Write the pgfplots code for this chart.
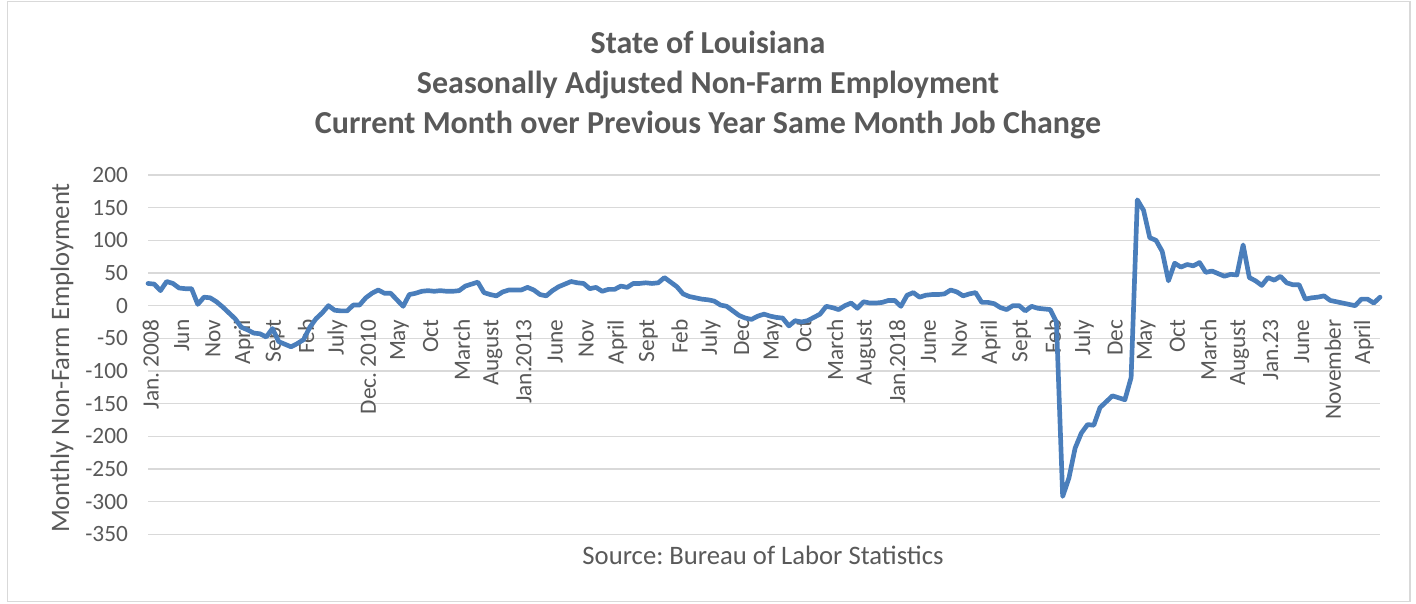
\documentclass[border=0pt]{standalone}
\usepackage{fontspec}
\setmainfont{Carlito}
\usepackage{pgfplots}
\pgfplotsset{compat=1.18}
\frenchspacing
\definecolor{linecol}{RGB}{74,126,187}
\definecolor{txt}{RGB}{89,89,89}
\definecolor{gridc}{RGB}{217,217,217}
\begin{document}
\begin{tikzpicture}[x=1pt,y=1pt]
\useasboundingbox (0,0) rectangle (1062,452.25);
\draw[gridc, line width=0.8pt] (5.6,1.2) rectangle (1057.5,451);
\node[txt, align=center, font=\fontsize{24}{30}\selectfont\bfseries] at (531,388.5)
  {State of Louisiana\\Seasonally Adjusted Non-Farm Employment\\Current Month over Previous Year Same Month Job Change};
\node[txt, rotate=90, font=\fontsize{20}{24}\selectfont] at (46.5,183.75) {Monthly Non-Farm Employment};
\node[txt, font=\fontsize{20}{24}\selectfont] at (572.25,36) {Source: Bureau of Labor Statistics};
\begin{axis}[
  at={(111pt,51.5pt)}, anchor=south west,
  scale only axis, width=924pt, height=269.5pt,
  xmin=0, xmax=198, ymin=-350, ymax=200,
  axis x line=middle, axis y line=left,
  hide obscured x ticks=false, hide obscured y ticks=false,
  x axis line style={-, draw=gridc, line width=1pt},
  y axis line style={draw=none},
  major tick length=0pt,
  ytick={-350,-300,-250,-200,-150,-100,-50,0,50,100,150,200},
  yticklabels={-350,-300,-250,-200,-150,-100,-50,0,50,100,150,200},
  ymajorgrids, grid style={gridc, line width=1pt},
  xtick={0,5,...,195},
  xticklabels={Jan. 2008,Jun,Nov,April,Sept,Feb,July,Dec. 2010,May,Oct,March,August,Jan.2013,June,Nov,April,Sept,Feb,July,Dec,May,Oct,March,August,Jan.2018,June,Nov,April,Sept,Feb,July,Dec,May,Oct,March,August,Jan.23,June,November,April},
  xticklabel style={yshift=-7pt, xshift=2pt, rotate=90, anchor=east, text=txt, font=\fontsize{17.5}{21}\selectfont},
  yticklabel style={text=txt, font=\fontsize{17.5}{21}\selectfont, xshift=-11.5pt},
  clip=false,
]
\addplot[linecol, line width=3.5pt, line join=round, line cap=round] table {
x y
0 34
1 33
2 23
3 37
4 34
5 27
6 26
7 26
8 2
9 13
10 12
11 6
12 -2
13 -11
14 -20
15 -33
16 -37
17 -42
18 -43
19 -48
20 -35
21 -55
22 -59
23 -63
24 -58
25 -52
26 -33
27 -20
28 -11
29 0
30 -7
31 -8
32 -8
33 1
34 1
35 12
36 19
37 24
38 19
39 19
40 9
41 -1
42 17
43 19
44 22
45 23
46 22
47 23
48 22
49 22
50 23
51 30
52 33
53 36
54 20
55 17
56 15
57 21
58 24
59 24
60 24
61 28
62 24
63 17
64 15
65 23
66 29
67 33
68 37
69 35
70 34
71 26
72 28
73 22
74 25
75 25
76 30
77 28
78 34
79 34
80 35
81 34
82 35
83 43
84 36
85 29
86 18
87 14
88 12
89 10
90 9
91 7
92 1
93 -1
94 -8
95 -15
96 -19
97 -21
98 -16
99 -13
100 -16
101 -18
102 -19
103 -31
104 -23
105 -25
106 -23
107 -18
108 -13
109 -1
110 -3
111 -6
112 0
113 4
114 -4
115 6
116 4
117 4
118 5
119 8
120 8
121 -1
122 16
123 20
124 13
125 16
126 17
127 17
128 18
129 24
130 21
131 15
132 18
133 20
134 5
135 5
136 3
137 -3
138 -6
139 0
140 0
141 -8
142 -1
143 -4
144 -5
145 -6
146 -25
147 -292
148 -264
149 -218
150 -195
151 -182
152 -183
153 -156
154 -147
155 -138
156 -141
157 -144
158 -110
159 162
160 146
161 104
162 100
163 83
164 38
165 65
166 59
167 63
168 61
169 66
170 51
171 53
172 49
173 45
174 48
175 47
176 93
177 43
178 38
179 31
180 43
181 39
182 45
183 35
184 32
185 32
186 10
187 12
188 13
189 15
190 8
191 6
192 4
193 2
194 0
195 10
196 10
197 4
198 13
};
\end{axis}
\end{tikzpicture}
\end{document}
